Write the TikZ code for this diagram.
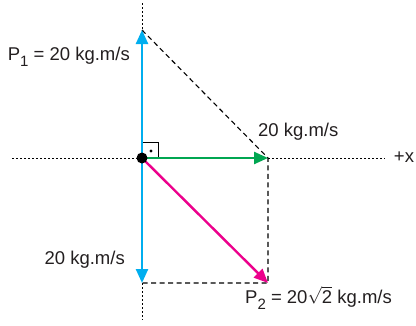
\documentclass[tikz,border=0pt]{standalone}
\usepackage{fontspec}
\setmainfont{Liberation Sans}
\usepackage{amsmath}
\usepackage{xcolor}
\usetikzlibrary{positioning, arrows.meta, calc}
\definecolor{pblue}{HTML}{00AEEF}
\definecolor{pgreen}{HTML}{00A651}
\definecolor{pmagenta}{HTML}{EC008C}
\definecolor{ptext}{HTML}{231F20}
\tikzset{
  vec/.style={line width=2.4pt, -{Triangle[length=14pt,width=12pt]}},
  axisline/.style={line width=0.9pt, dash pattern=on 2pt off 2pt},
  helpline/.style={line width=1.1pt, dash pattern=on 5pt off 3.5pt},
  lbl/.style={color=ptext, font=\fontsize{18.5}{20}\selectfont, inner sep=0pt}
}
\newcommand{\subidx}[1]{\raisebox{-0.35em}{\fontsize{15}{15}\selectfont #1}}
\begin{document}
\begin{tikzpicture}[x=1pt, y=-1pt]
      \useasboundingbox (0,0) rectangle (416,325);
      % points
      \coordinate (O) at (142,158);
      \coordinate (p1) at (142,30);
      \coordinate (px) at (268,158);
      \coordinate (py) at (142,283);
      \coordinate (p2) at (268,283);
      \coordinate (xl) at (12,158);
      \coordinate (xr) at (385,158);
      \coordinate (yt) at (142,3);
      \coordinate (yb) at (142,320);
      % axes
      \draw[axisline] (xl) -- (xr);
      \draw[axisline] (yt) -- (yb);
      % construction lines
      \draw[helpline] (p1) -- (px) -- (p2) -- (py);
      % right angle
      \draw[line width=0.8pt] (O) ++(0,-16) -| ++(16,16);
      \fill ($(O)+(9,-7)$) circle (1.6pt);
      % vectors
      \draw[vec, pblue] (O) -- (p1);
      \draw[vec, pblue] (O) -- (py);
      \draw[vec, pgreen] (O) -- (px);
      \draw[vec, pmagenta] (O) -- (p2);
      \fill (O) circle (5.5pt);
      % labels
      \node[lbl, anchor=east] (l1) at (130,57) {P\subidx{1} = 20 kg.m/s};
      \node[lbl, anchor=west] (lx) at (258,132) {20 kg.m/s};
      \node[lbl] (ax) at (404,157) {+x};
      \node[lbl, anchor=east] (ly) at (125,260) {20 kg.m/s};
      \node[lbl, anchor=west] (l2) at (245,298) {P\subidx{2} = 20$\sqrt{\text{2}}$ kg.m/s};
    \end{tikzpicture}
\end{document}
